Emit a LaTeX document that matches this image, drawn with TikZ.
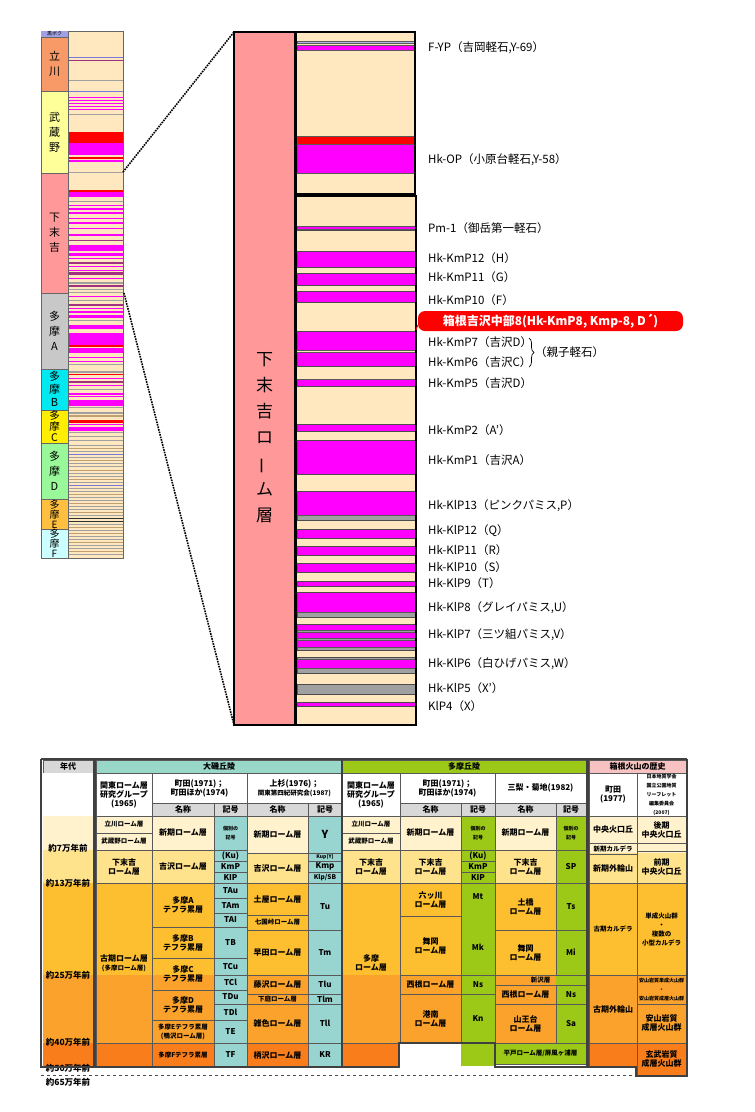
\documentclass[tikz,border=0pt]{standalone}
\usepackage{fontspec}
\setmainfont{Noto Sans CJK JP}
\usetikzlibrary{decorations.pathreplacing}
\definecolor{sm}{HTML}{FF00FF}
\definecolor{sr}{HTML}{FF0000}
\definecolor{sg}{HTML}{A0A0A0}
\definecolor{sb}{HTML}{7878D8}
\definecolor{sp}{HTML}{A03080}
\definecolor{st}{HTML}{C0A070}
\definecolor{sk}{HTML}{303030}
\definecolor{slb}{HTML}{B0B8E8}
\definecolor{cream}{HTML}{FFE8C0}
\definecolor{pinkcol}{HTML}{FF9999}
\definecolor{bandA}{HTML}{FFF2CC}
\definecolor{bandB}{HTML}{FFE28C}
\definecolor{bandC}{HTML}{FDBF30}
\definecolor{bandD}{HTML}{FBA22C}
\definecolor{bandE}{HTML}{FA7D1C}
\definecolor{teal}{HTML}{99D5D0}
\definecolor{tealhd}{HTML}{99D8C8}
\definecolor{grn}{HTML}{9CC817}
\definecolor{hdgray}{HTML}{D8D8D8}
\definecolor{pinkhd}{HTML}{F7C2C2}
\definecolor{lc1}{HTML}{F79A68}
\definecolor{lc2}{HTML}{FFFF99}
\definecolor{lc3}{HTML}{FF9999}
\definecolor{lc4}{HTML}{C8C8C8}
\definecolor{lc5}{HTML}{00E8F0}
\definecolor{lc6}{HTML}{FFEE00}
\definecolor{lc7}{HTML}{99F899}
\definecolor{lc8}{HTML}{FFC040}
\definecolor{lc9}{HTML}{CCFFFF}
\newcounter{cn}
\tikzset{
  cl/.style={draw=black!65,line width=0.6pt},
  ct/.style={align=center,inner sep=0pt,font=\fontsize{8}{9}\selectfont\bfseries},
  thk/.style={draw=black!75,line width=2.6pt},
  lab/.style={anchor=west,inner sep=0pt,font=\fontsize{11.5}{12}\selectfont},
  vlab/.style={align=center,inner sep=0pt,font=\fontsize{11}{15}\selectfont},
  stripe/.style={draw=black!65,line width=0.5pt},
}
\newcommand\cb[5]{\draw[cl] (#1,#2) rectangle (#3,#4);
  \stepcounter{cn}\node[ct] (c\arabic{cn}) at ({(#1+#3)/2},{(#2+#4)/2}) {#5};}
\newcommand\cf[6]{\fill[#5] (#1,#2) rectangle (#3,#4); \cb{#1}{#2}{#3}{#4}{#6}}
\newcommand\sm[1]{{\fontsize{6.5}{7.5}\selectfont #1}}
\newcommand\tn[1]{{\fontsize{5}{6}\selectfont #1}}
\begin{document}
\begin{tikzpicture}[x=1pt,y=-1pt]
\useasboundingbox (0,0) rectangle (755,1112);
\fill[white] (0,0) rectangle (755,1112);

% ---------- left overview column ----------
\fill[cream] (68,31) rectangle (123,558);
\foreach \a/\h/\c in {57/1/sb,60/1/sp,80/1/sg,91/1/sb,97/1.2/sm,100/1.2/sm,103/1.2/sm,106/1.2/sm,109/1.2/sm,114/1/sg,
 132/11/sr,143/12/sm,157/1.5/sr,160/1.5/sm,172/1/sg,190/1.5/sr,192/5/sm,201/1/sg,205/1/sm,208/1.5/sm,212/2/sm,218/1/sm,
 222/2/sm,228/1/sm,234/2/sm,240/1/sp,245/6/sm,253/3/sm,258/1/sm,262/2/sp,266/1/sm,270/1/sm,272/3/sp,278/1/sm,282/2/sg,
 285/2/sp,289/1/sg,292/1/sg,296/1/sm,300/1/sg,304/1.5/sp,308/1/sm,311/2/sm,315/3/sm,320/1/sg,325/4/sm,333/12/sm,345/2/sr,
 348/5/sm,357/1/sm,361/1/sm,364/1/sg,371/2/sg,374/1/sr,378/1/sm,381/1.5/sp,385/1/sm,389/1/sg,393/2/sm,396/1/sm,400/6/sm,
 407/1/sg,412/2/sg,415/2/st,420/3/sr,424/1/sm,427/4/sm,432/1/sg,436/1/sg,440/1/sg,
 445/1/sg,448/1/st,451/1/sg,454/1/sb,457/1/sg,460/1/st,463/1/sg,466/1/sg,470/1/st,473/1/sg,476/1/sg,479/1/st,482/1/sg,
 485/1/sb,488/1/sg,491/1/sg,494/1/st,497/1/sg,500/1/sg,503/1/st,506/1/sg,509/1/sg,512/1/st,515/1/sg,518/1/sk,521/1/sk,
 524/1/sg,527/1/st,530/1/sg,533/1/st,536/1/sg,539/1/sg,542/1/st,545/1/sg,548/1/sg,551/1/st,554/1/sg}
 {\fill[\c] (68,\a) rectangle (123,\a+\h);}
\draw[black!60,line width=0.6pt] (68,31) rectangle (123,558);
\fill[sb!70] (41,31) rectangle (68,37);
\node[inner sep=0pt,font=\fontsize{5}{5}\selectfont] (kb) at (54.5,34) {黒ボク};
\foreach \a/\b/\c in {37/91/lc1,91/173/lc2,173/293/lc3,293/369/lc4,369/410/lc5,410/443/lc6,443/499/lc7,499/529/lc8,529/558/lc9}
 {\fill[\c] (41,\a) rectangle (68,\b); \draw[black!60,line width=0.6pt] (41,\a) rectangle (68,\b);}
\node[vlab] (l1) at (54.5,64) {立\\川};
\node[vlab] (l2) at (54.5,132) {武\\蔵\\野};
\node[vlab] (l3) at (54.5,233) {下\\末\\吉};
\node[vlab] (l4) at (54.5,331) {多\\摩\\A};
\node[vlab,font=\fontsize{11}{13}\selectfont] (l5) at (54.5,389) {多\\摩\\B};
\node[vlab,font=\fontsize{10.5}{11}\selectfont] (l6) at (54.5,426) {多\\摩\\C};
\node[vlab] (l7) at (54.5,471) {多\\摩\\D};
\node[vlab,font=\fontsize{10}{10}\selectfont] (l8) at (54.5,514) {多\\摩\\E};
\node[vlab,font=\fontsize{10}{10}\selectfont] (l9) at (54.5,543) {多\\摩\\F};

% ---------- main column ----------
\fill[pinkcol] (234,32) rectangle (295,725);
\draw[black,line width=1.2pt] (234,32) rectangle (295,725);
\node[align=center,inner sep=0pt,font=\fontsize{17}{26}\selectfont] (pk) at (264.5,438) {下\\末\\吉\\ロ\\\rotatebox[origin=c]{90}{ー}\\ム\\層};
\fill[cream] (296,32) rectangle (415,725);
\foreach \a/\b/\c in {41.5/43.5/slb,45.7/50.7/sm,136/144/sr,144/173/sm,
 226/229/sm,251/267/sm,273/285/sm,291/302/sm,331/350/sm,352/366/sm,379/386/sm,424/431/sm,440/474/sm,491/515/sm,515/520/sg,
 529/538/sm,546/555/sm,563/572/sm,581/586/sm,592/612/sm,612/617/sg,624/630/sm,630/632/sg,632/638/sm,638/640/sg,640/647/sm,
 647/650/sg,657/659/sg,659/668/sm,668/673/sg,684/694/sg,702/706/sm}
 {\filldraw[stripe,fill=\c] (297,\a) rectangle (415,\b);}
\foreach \a in {196,230,251,267,273,285,291,302,331,366,386,424,431,440,474,491,520,529,538,546,555,563,572,581,586,592,617,624,650,657,673,684,694,702,706}
 {\draw[black!70,line width=0.6pt] (297,\a) -- (415,\a);}
\draw[black,line width=1.2pt] (296,32) rectangle (415,194);
\draw[black,line width=1.2pt] (296,196) rectangle (416,725);

% dotted connectors
\coordinate (ovt) at (123,172); \coordinate (ovb) at (124,293);
\coordinate (mt) at (234,32); \coordinate (mb) at (234,725);
\draw[black,line width=1.6pt,densely dotted] (ovt) -- (mt);
\draw[black,line width=1.6pt,densely dotted] (ovb) -- (mb);

% labels
\foreach \y/\t [count=\i] in {48/F-YP（吉岡軽石{,}Y-69）,160/Hk-OP（小原台軽石{,}Y-58）,228/Pm-1（御岳第一軽石）,258/Hk-KmP12（H）,
 277/Hk-KmP11（G）,300/Hk-KmP10（F）,342/Hk-KmP7（吉沢D）,362/Hk-KmP6（吉沢C）,383/Hk-KmP5（吉沢D）,430/Hk-KmP2（A'）,
 460/Hk-KmP1（吉沢A）,506/Hk-KlP13（ピンクパミス{,}P）,531/Hk-KlP12（Q）,550/Hk-KlP11（R）,567/Hk-KlP10（S）,583/Hk-KlP9（T）,
 608/Hk-KlP8（グレイパミス{,}U）,635/Hk-KlP7（三ツ組パミス{,}V）,664/Hk-KlP6（白ひげパミス{,}W）,688/Hk-KlP5（X'）,706/KlP4（X）}
 {\node[lab] (t\i) at (428,\y) {\t};}
\node[fill=sr,rounded corners=7pt,text=white,inner sep=0pt,minimum width=265pt,minimum height=20pt,
  font=\fontsize{12}{12}\selectfont\bfseries] (rl) at (550.5,321) {箱根吉沢中部8(Hk-KmP8, Kmp-8, D´)};
\coordinate (rlc) at (416,330);
\draw[sr,line width=1pt] (rl.west) ++(0,4) -- (rlc);
\coordinate (br1) at (529,338); \coordinate (br2) at (529,367);
\draw[black,line width=0.7pt,decorate,decoration={brace,amplitude=5pt}] (br1) -- (br2);
\node[lab] (oya) at (535,352.5) {（親子軽石）};

% ---------- table ----------
\fill[bandA] (43,816) rectangle (586,850);
\fill[bandB] (43,850) rectangle (586,883);
\fill[bandC] (43,883) rectangle (586,975);
\fill[bandD] (43,975) rectangle (586,1043);
\fill[bandE] (43,1043) rectangle (399,1067);
\fill[bandA] (589,816) rectangle (686,853);
\fill[bandB] (589,853) rectangle (686,883);
\fill[bandC] (589,883) rectangle (686,975);
\fill[bandD] (589,975) rectangle (686,1043);
\fill[bandE] (589,1043) rectangle (637,1067);
\fill[bandE] (637,1043) rectangle (686,1075);
\fill[bandA] (247,816) rectangle (308,853);
% age column
\cf{43}{760}{93}{773}{hdgray}{年代}
\fill[white] (43,773) rectangle (93,816);
\node[ct,font=\fontsize{8.5}{9}\selectfont\bfseries] (a1) at (68,848) {約7万年前};
\node[ct,font=\fontsize{8.5}{9}\selectfont\bfseries] (a2) at (68,883) {約13万年前};
\node[ct,font=\fontsize{8.5}{9}\selectfont\bfseries] (a3) at (68,975) {約25万年前};
\node[ct,font=\fontsize{8.5}{9}\selectfont\bfseries] (a4) at (68,1042) {約40万年前};
\node[ct,font=\fontsize{8.5}{9}\selectfont\bfseries] (a5) at (68,1068) {約50万年前};
\node[ct,font=\fontsize{8.5}{9}\selectfont\bfseries] (a6) at (68,1082) {約65万年前};
\coordinate (d1) at (41,1075); \coordinate (d2) at (636,1075);
\draw[black!70,dashed,line width=0.5pt] (d1) -- (d2);
% Oiso
\cf{96}{760}{342}{773}{tealhd}{大磯丘陵}
\cf{96}{773}{152}{816}{white}{関東ローム層\\研究グループ\\(1965)}
\cf{152}{773}{247}{803}{white}{町田(1971)；\\町田ほか(1974)}
\cf{152}{803}{214}{816}{hdgray}{名称}
\cf{214}{803}{247}{816}{hdgray}{記号}
\cf{247}{773}{342}{803}{white}{上杉(1976)；\\\sm{関東第四紀研究会(1987)}}
\cf{247}{803}{308}{816}{hdgray}{名称}
\cf{308}{803}{342}{816}{hdgray}{記号}
\cb{96}{816}{152}{833}{\sm{立川ローム層}}
\cb{96}{833}{152}{850}{\sm{武蔵野ローム層}}
\cb{96}{850}{152}{883}{下末吉\\ローム層}
\cb{96}{883}{152}{1043}{古期ローム層\\\sm{(多摩ローム層)}}
\cb{96}{1043}{152}{1067}{}
\cb{152}{816}{214}{850}{新期ローム層}
\cb{152}{850}{214}{883}{吉沢ローム層}
\cb{152}{883}{214}{927}{多摩A\\テフラ累層}
\cb{152}{927}{214}{958}{多摩B\\テフラ累層}
\cb{152}{958}{214}{990}{多摩C\\テフラ累層}
\cb{152}{990}{214}{1020}{多摩D\\テフラ累層}
\cb{152}{1020}{214}{1043}{\sm{多摩Eテフラ累層}\\\sm{(鴨沢ローム層)}}
\cb{152}{1043}{214}{1067}{\sm{多摩Fテフラ累層}}
\cf{214}{816}{247}{850}{teal}{\tn{個別の}\\\tn{記号}}
\cf{214}{850}{247}{861}{teal}{(Ku)}
\cf{214}{861}{247}{872}{teal}{KmP}
\cf{214}{872}{247}{883}{teal}{KIP}
\cf{214}{883}{247}{898}{teal}{TAu}
\cf{214}{898}{247}{913}{teal}{TAm}
\cf{214}{913}{247}{927}{teal}{TAI}
\cf{214}{927}{247}{958}{teal}{TB}
\cf{214}{958}{247}{975}{teal}{TCu}
\cf{214}{975}{247}{990}{teal}{TCl}
\cf{214}{990}{247}{1004}{teal}{TDu}
\cf{214}{1004}{247}{1020}{teal}{TDl}
\cf{214}{1020}{247}{1043}{teal}{TE}
\cf{214}{1043}{247}{1067}{teal}{TF}
\cb{247}{816}{308}{853}{新期ローム層}
\cb{247}{853}{308}{883}{吉沢ローム層}
\cb{247}{883}{308}{915}{土屋ローム層}
\cb{247}{915}{308}{930}{\sm{七国峠ローム層}}
\cb{247}{930}{308}{975}{早田ローム層}
\cb{247}{975}{308}{994}{藤沢ローム層}
\cb{247}{994}{308}{1004}{\sm{下庭ローム層}}
\cb{247}{1004}{308}{1043}{雑色ローム層}
\cb{247}{1043}{308}{1067}{柄沢ローム層}
\cf{308}{816}{342}{853}{teal}{{\fontsize{11}{12}\selectfont Y}}
\cf{308}{853}{342}{861}{teal}{\tn{Kup(Y)}}
\cf{308}{861}{342}{872}{teal}{Kmp}
\cf{308}{872}{342}{883}{teal}{\sm{Klp/SB}}
\cf{308}{883}{342}{930}{teal}{Tu}
\cf{308}{930}{342}{975}{teal}{Tm}
\cf{308}{975}{342}{994}{teal}{Tlu}
\cf{308}{994}{342}{1004}{teal}{Tlm}
\cf{308}{1004}{342}{1043}{teal}{Tll}
\cf{308}{1043}{342}{1067}{teal}{KR}
% Tama
\cf{342}{760}{586}{773}{grn}{多摩丘陵}
\cf{342}{773}{400}{816}{white}{関東ローム層\\研究グループ\\(1965)}
\cf{400}{773}{495}{803}{white}{町田(1971)；\\町田ほか(1974)}
\cf{400}{803}{461}{816}{hdgray}{名称}
\cf{461}{803}{495}{816}{hdgray}{記号}
\cf{495}{773}{586}{803}{white}{三梨・菊地(1982)}
\cf{495}{803}{556}{816}{hdgray}{名称}
\cf{556}{803}{586}{816}{hdgray}{記号}
\cb{342}{816}{400}{833}{\sm{立川ローム層}}
\cb{342}{833}{400}{850}{\sm{武蔵野ローム層}}
\cb{342}{850}{400}{883}{下末吉\\ローム層}
\cb{342}{883}{400}{1043}{多摩\\ローム層}
\cb{400}{816}{461}{850}{新期ローム層}
\cb{400}{850}{461}{883}{下末吉\\ローム層}
\cb{400}{883}{461}{916}{六ッ川\\ローム層}
\cb{400}{916}{461}{975}{舞岡\\ローム層}
\cb{400}{975}{461}{994}{西根ローム層}
\cb{400}{994}{461}{1043}{港南\\ローム層}
\fill[white] (400,1043) rectangle (461,1068);
\cf{461}{816}{495}{850}{grn}{\tn{個別の}\\\tn{記号}}
\cf{461}{850}{495}{861}{grn}{(Ku)}
\cf{461}{861}{495}{872}{grn}{KmP}
\cf{461}{872}{495}{883}{grn}{KIP}
\cf{461}{883}{495}{975}{grn}{}
\node[ct] (mt1) at (478,897) {Mt};
\node[ct] (mk1) at (478,947) {Mk};
\cf{461}{975}{495}{994}{grn}{Ns}
\cf{461}{994}{495}{1043}{grn}{Kn}
\fill[grn] (461,1043) rectangle (495,1066);
\cb{495}{816}{556}{850}{新期ローム層}
\cb{495}{850}{556}{883}{下末吉\\ローム層}
\cb{495}{883}{556}{930}{土橋\\ローム層}
\cb{495}{930}{556}{975}{舞岡\\ローム層}
\fill[grn] (556,975) rectangle (586,985);
\cb{495}{975}{586}{985}{\sm{新沢層}}
\cb{495}{985}{556}{1004}{西根ローム層}
\cb{495}{1004}{556}{1043}{山王台\\ローム層}
\cf{495}{1043}{586}{1064}{grn}{\sm{平戸ローム層/屏風ヶ浦層}}
\cf{556}{816}{586}{850}{grn}{\tn{個別の}\\\tn{記号}}
\cf{556}{850}{586}{883}{grn}{SP}
\cf{556}{883}{586}{930}{grn}{Ts}
\cf{556}{930}{586}{975}{grn}{Mi}
\cf{556}{985}{586}{1004}{grn}{Ns}
\cf{556}{1004}{586}{1043}{grn}{Sa}
% Hakone
\cf{589}{760}{686}{773}{pinkhd}{箱根火山の歴史}
\cf{589}{773}{637}{816}{white}{町田\\(1977)}
\cf{637}{773}{686}{816}{white}{\tn{日本地質学会}\\\tn{国立公園地質}\\\tn{リーフレット}\\\tn{編集委員会}\\\tn{(2007)}}
\cb{589}{816}{637}{843}{中央火口丘}
\cb{589}{843}{637}{854}{\sm{新期カルデラ}}
\cb{589}{854}{637}{883}{新期外輪山}
\cb{589}{883}{637}{975}{\sm{古期カルデラ}}
\cb{589}{975}{637}{1043}{古期外輪山}
\cb{589}{1043}{637}{1067}{}
\cb{637}{816}{686}{843}{後期\\中央火口丘}
\cb{637}{843}{686}{851}{}
\cb{637}{851}{686}{883}{前期\\中央火口丘}
\cb{637}{883}{686}{975}{\sm{単成火山群}\\\sm{・}\\\sm{複数の}\\\sm{小型カルデラ}}
\cb{637}{975}{686}{1004}{\tn{安山岩質単成火山群}\\\tn{・}\\\tn{安山岩質成層火山群}}
\cb{637}{1004}{686}{1043}{安山岩質\\成層火山群}
\cb{637}{1043}{686}{1075}{玄武岩質\\成層火山群}
% thick borders
\draw[thk] (41,759) -- (687,759);
\draw[thk] (41,759) -- (41,1067) -- (399,1067) -- (399,1043) -- (495,1043) -- (495,1067) -- (636,1067) -- (636,1076) -- (687,1076) -- (687,759);
\draw[thk] (94.5,759) -- (94.5,1067);
\draw[thk] (342,759) -- (342,1067);
\draw[thk] (587.5,759) -- (587.5,1067);
\end{tikzpicture}
\end{document}
